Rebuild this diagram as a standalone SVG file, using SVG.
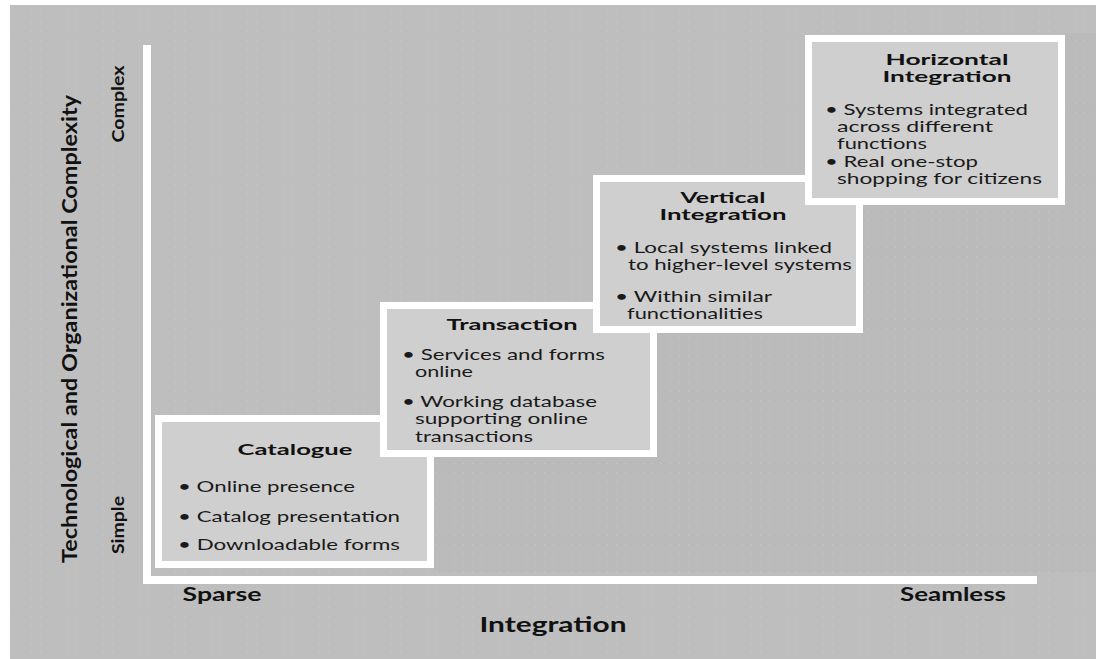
<svg xmlns="http://www.w3.org/2000/svg" width="1096" height="659" viewBox="0 0 1096 659">
<defs>
<pattern id="dots" width="9" height="9" patternUnits="userSpaceOnUse">
<rect x="4" y="4" width="1" height="1" fill="#d6d6d6"/>
</pattern>
</defs>
<style>
.box{fill:#cfcfcf;stroke:#ffffff;stroke-width:7}
.t{font-family:Lato,"Liberation Sans",sans-serif;font-size:16px;fill:#1a1a1a}
.s{font-size:15px}
.h{font-family:Lato,"Liberation Sans",sans-serif;font-size:16px;font-weight:bold;fill:#111;text-anchor:middle}
.ax{font-family:Lato,"Liberation Sans",sans-serif;font-weight:bold;fill:#111;text-anchor:middle}
.axis{stroke:#ffffff;stroke-width:8;fill:none}
</style>
<rect width="1096" height="659" fill="#ffffff"/>
<rect x="10" y="5" width="1086" height="654" fill="#bebebe"/>
<polygon points="434,572 434,457 657,457 657,333 863,333 863,205 1065,205 1065,33 1096,33 1096,572" fill="#bababa"/>
<rect x="10" y="5" width="1086" height="654" fill="url(#dots)" opacity="0.5"/>

<g id="axes">
<line class="axis" x1="147" y1="45" x2="147" y2="584"/>
<line class="axis" x1="143" y1="580" x2="1037" y2="580"/>
</g>

<g id="axis-labels">
<text class="ax" font-size="20" transform="translate(77,329) rotate(-90)" textLength="468" lengthAdjust="spacingAndGlyphs" font-weight="600">Technological and Organizational Complexity</text>
<text class="ax" font-size="17" transform="translate(124,104) rotate(-90)" textLength="77" lengthAdjust="spacingAndGlyphs" font-weight="600">Complex</text>
<text class="ax" font-size="17" transform="translate(124,525) rotate(-90)" textLength="58" lengthAdjust="spacingAndGlyphs" font-weight="600">Simple</text>
<text class="ax" font-size="18" x="222" y="601" textLength="79" lengthAdjust="spacingAndGlyphs">Sparse</text>
<text class="ax" font-size="18" x="953" y="601" textLength="106" lengthAdjust="spacingAndGlyphs">Seamless</text>
<text class="ax" font-size="21" x="553" y="632" textLength="147" lengthAdjust="spacingAndGlyphs">Integration</text>
</g>

<g id="catalogue">
<rect class="box" x="158.5" y="418.5" width="272" height="146"/>
<text class="h" x="295" y="455" textLength="115" lengthAdjust="spacingAndGlyphs">Catalogue</text>
<text class="t" x="178" y="492" textLength="177" lengthAdjust="spacingAndGlyphs">• Online presence</text>
<text class="t" x="178" y="522" textLength="222" lengthAdjust="spacingAndGlyphs">• Catalog presentation</text>
<text class="t" x="178" y="550" textLength="222" lengthAdjust="spacingAndGlyphs">• Downloadable forms</text>
</g>

<g id="transaction">
<rect class="box" x="383.5" y="305.5" width="270" height="148"/>
<text class="h" x="512" y="330" textLength="131" lengthAdjust="spacingAndGlyphs">Transaction</text>
<text class="t" x="402" y="360" textLength="203" lengthAdjust="spacingAndGlyphs">• Services and forms</text>
<text class="t" x="415" y="377" textLength="58" lengthAdjust="spacingAndGlyphs">online</text>
<text class="t" x="402" y="407" textLength="195" lengthAdjust="spacingAndGlyphs">• Working database</text>
<text class="t" x="415" y="424" textLength="173" lengthAdjust="spacingAndGlyphs">supporting online</text>
<text class="t" x="415" y="442" textLength="118" lengthAdjust="spacingAndGlyphs">transactions</text>
</g>

<g id="vertical">
<rect class="box" x="596.5" y="178.5" width="263" height="151"/>
<text class="h" x="723" y="203" textLength="85" lengthAdjust="spacingAndGlyphs">Vertical</text>
<text class="h" x="723" y="220" textLength="127" lengthAdjust="spacingAndGlyphs">Integration</text>
<text class="t" x="615" y="253" textLength="217" lengthAdjust="spacingAndGlyphs">• Local systems linked</text>
<text class="t" x="628" y="270" textLength="224" lengthAdjust="spacingAndGlyphs">to higher-level systems</text>
<text class="t s" x="615" y="302" textLength="157" lengthAdjust="spacingAndGlyphs">• Within similar</text>
<text class="t s" x="627" y="319" textLength="136" lengthAdjust="spacingAndGlyphs">functionalities</text>
</g>

<g id="horizontal">
<rect class="box" x="808.5" y="38.5" width="253" height="163"/>
<text class="h" x="947" y="65" textLength="123" lengthAdjust="spacingAndGlyphs">Horizontal</text>
<text class="h" x="947" y="82" textLength="129" lengthAdjust="spacingAndGlyphs">Integration</text>
<text class="t s" x="825" y="115" textLength="203" lengthAdjust="spacingAndGlyphs">• Systems integrated</text>
<text class="t s" x="837" y="132" textLength="156" lengthAdjust="spacingAndGlyphs">across different</text>
<text class="t s" x="837" y="149" textLength="90" lengthAdjust="spacingAndGlyphs">functions</text>
<text class="t s" x="825" y="167" textLength="153" lengthAdjust="spacingAndGlyphs">• Real one-stop</text>
<text class="t s" x="837" y="184" textLength="205" lengthAdjust="spacingAndGlyphs">shopping for citizens</text>
</g>
</svg>
